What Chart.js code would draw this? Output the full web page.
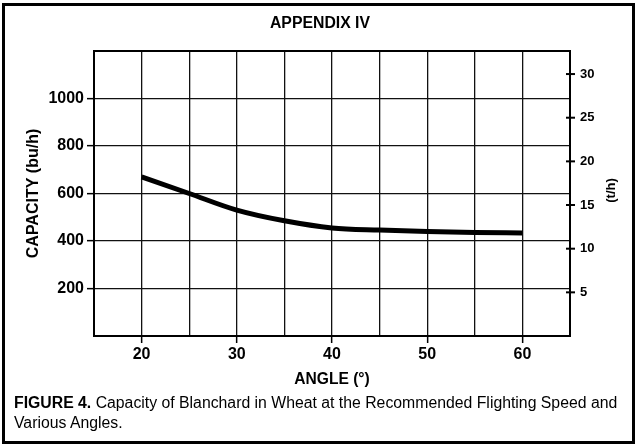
<!DOCTYPE html>
<html>
<head>
<meta charset="utf-8">
<script src="https://cdn.jsdelivr.net/npm/chart.js@4.4.1/dist/chart.umd.min.js"></script>
<style>
  html, body { margin: 0; padding: 0; background: #fff; }
  #wrap { position: relative; width: 637px; height: 447px; overflow: hidden; background: #fff; }
  #frame { position: absolute; left: 2px; top: 3px; width: 627px; height: 435px; border: 3px solid #000; }
  #c { position: absolute; left: 0; top: 0; }
  #title { position: absolute; left: 0; width: 640px; top: 14px; text-align: center;
           font: bold 15.8px "Liberation Sans", Arial, sans-serif; color: #000; }
  #caption { position: absolute; left: 14px; top: 393px; width: 620px;
             font: 15.8px "Liberation Sans", Arial, sans-serif; line-height: 20px; color: #000; }
</style>
</head>
<body>
<div id="wrap">
  <canvas id="c" width="637" height="447"></canvas>
  <div id="frame"></div>
  <div id="title">APPENDIX IV</div>
  <div id="caption"><b>FIGURE 4.</b> Capacity of Blanchard in Wheat at the Recommended Flighting Speed and<br>Various Angles.</div>
</div>
<script>
// ---- data ----
const angles = [20, 25, 30, 35, 40, 45, 50, 55, 60];
const capacityBuH = [670, 600, 530, 485, 455, 446, 440, 436, 434];
const xTickLabels = [20, 30, 40, 50, 60];
const leftTickLabels = [200, 400, 600, 800, 1000];
const rightTickLabels = [5, 10, 15, 20, 25, 30];
const BU_TO_T = 0.0272; // t per bushel of wheat

const xTitle = 'ANGLE (°)';
const yTitle = 'CAPACITY (bu/h)';
const y2Title = '(t/h)';

const FONT = '"Liberation Sans", Arial, sans-serif';

const rightAxisExtras = {
  id: 'rightAxisExtras',
  afterDraw(chart) {
    const s = chart.scales.y2;
    const ctx = chart.ctx;
    ctx.save();
    ctx.strokeStyle = '#000';
    ctx.lineWidth = 2;
    rightTickLabels.forEach(v => {
      const y = s.getPixelForValue(v);
      ctx.beginPath();
      ctx.moveTo(s.left - 4, y);
      ctx.lineTo(s.left + 5, y);
      ctx.stroke();
    });
    ctx.translate(611, (chart.chartArea.top + chart.chartArea.bottom) / 2 - 3);
    ctx.rotate(-Math.PI / 2);
    ctx.font = 'bold 13px ' + FONT;
    ctx.fillStyle = '#000';
    ctx.textAlign = 'center';
    ctx.textBaseline = 'middle';
    ctx.fillText(y2Title, 0, 0);
    ctx.restore();
  }
};

new Chart(document.getElementById('c'), {
  type: 'line',
  data: {
    datasets: [{
      data: angles.map((a, i) => ({ x: a, y: capacityBuH[i] })),
      borderColor: '#000',
      borderWidth: 5,
      pointRadius: 0,
      cubicInterpolationMode: 'monotone',
      fill: false,
      borderCapStyle: 'butt'
    }]
  },
  options: {
    responsive: false,
    animation: false,
    events: [],
    layout: { padding: { top: 51, left: 0, right: 0, bottom: 0 } },
    plugins: { legend: { display: false }, tooltip: { enabled: false }, title: { display: false } },
    scales: {
      x: {
        type: 'linear',
        min: 15, max: 65,
        afterFit(s) { s.height = 111; },
        ticks: {
          stepSize: 5,
          autoSkip: false,
          maxRotation: 0,
          color: '#000',
          font: { family: FONT, size: 16, weight: 'bold' },
          padding: 2,
          callback: v => xTickLabels.includes(v) ? String(v) : ''
        },
        grid: {
          color: '#111',
          lineWidth: 1.3,
          tickLength: 7,
          tickWidth: 1.5,
          tickColor: ctx => (ctx.tick && xTickLabels.includes(ctx.tick.value)) ? '#000' : 'rgba(0,0,0,0)'
        },
        border: { color: '#000', width: 2 },
        title: {
          display: true, text: xTitle, color: '#000',
          font: { family: FONT, size: 15.6, weight: 'bold' },
          padding: { top: 0, bottom: 58 }
        }
      },
      y: {
        type: 'linear',
        position: 'left',
        min: 0, max: 1200,
        afterFit(s) { s.width = 94; },
        ticks: {
          stepSize: 200,
          color: '#000',
          font: { family: FONT, size: 16, weight: 'bold' },
          padding: 3,
          callback: v => leftTickLabels.includes(v) ? String(v) : ''
        },
        grid: {
          color: ctx => (ctx.tick && ctx.tick.value === 1200) ? '#000' : '#111',
          lineWidth: ctx => (ctx.tick && ctx.tick.value === 1200) ? 2 : 1.3,
          tickLength: 7,
          tickWidth: 1.5,
          tickColor: ctx => (ctx.tick && leftTickLabels.includes(ctx.tick.value)) ? '#000' : 'rgba(0,0,0,0)'
        },
        border: { color: '#000', width: 2 },
        title: {
          display: true, text: yTitle, color: '#000',
          font: { family: FONT, size: 16, weight: 'bold' },
          padding: { top: 24, bottom: 0 }
        }
      },
      y2: {
        type: 'linear',
        position: 'right',
        min: 0, max: 1200 * BU_TO_T,
        afterFit(s) { s.width = 67; },
        afterBuildTicks(s) { s.ticks = rightTickLabels.map(v => ({ value: v })); },
        ticks: {
          color: '#000',
          font: { family: FONT, size: 13, weight: 'bold' },
          padding: 10,
          callback: v => String(v)
        },
        grid: { drawOnChartArea: false, drawTicks: false },
        border: { color: '#000', width: 2 }
      }
    }
  },
  plugins: [rightAxisExtras]
});
</script>
</body>
</html>
